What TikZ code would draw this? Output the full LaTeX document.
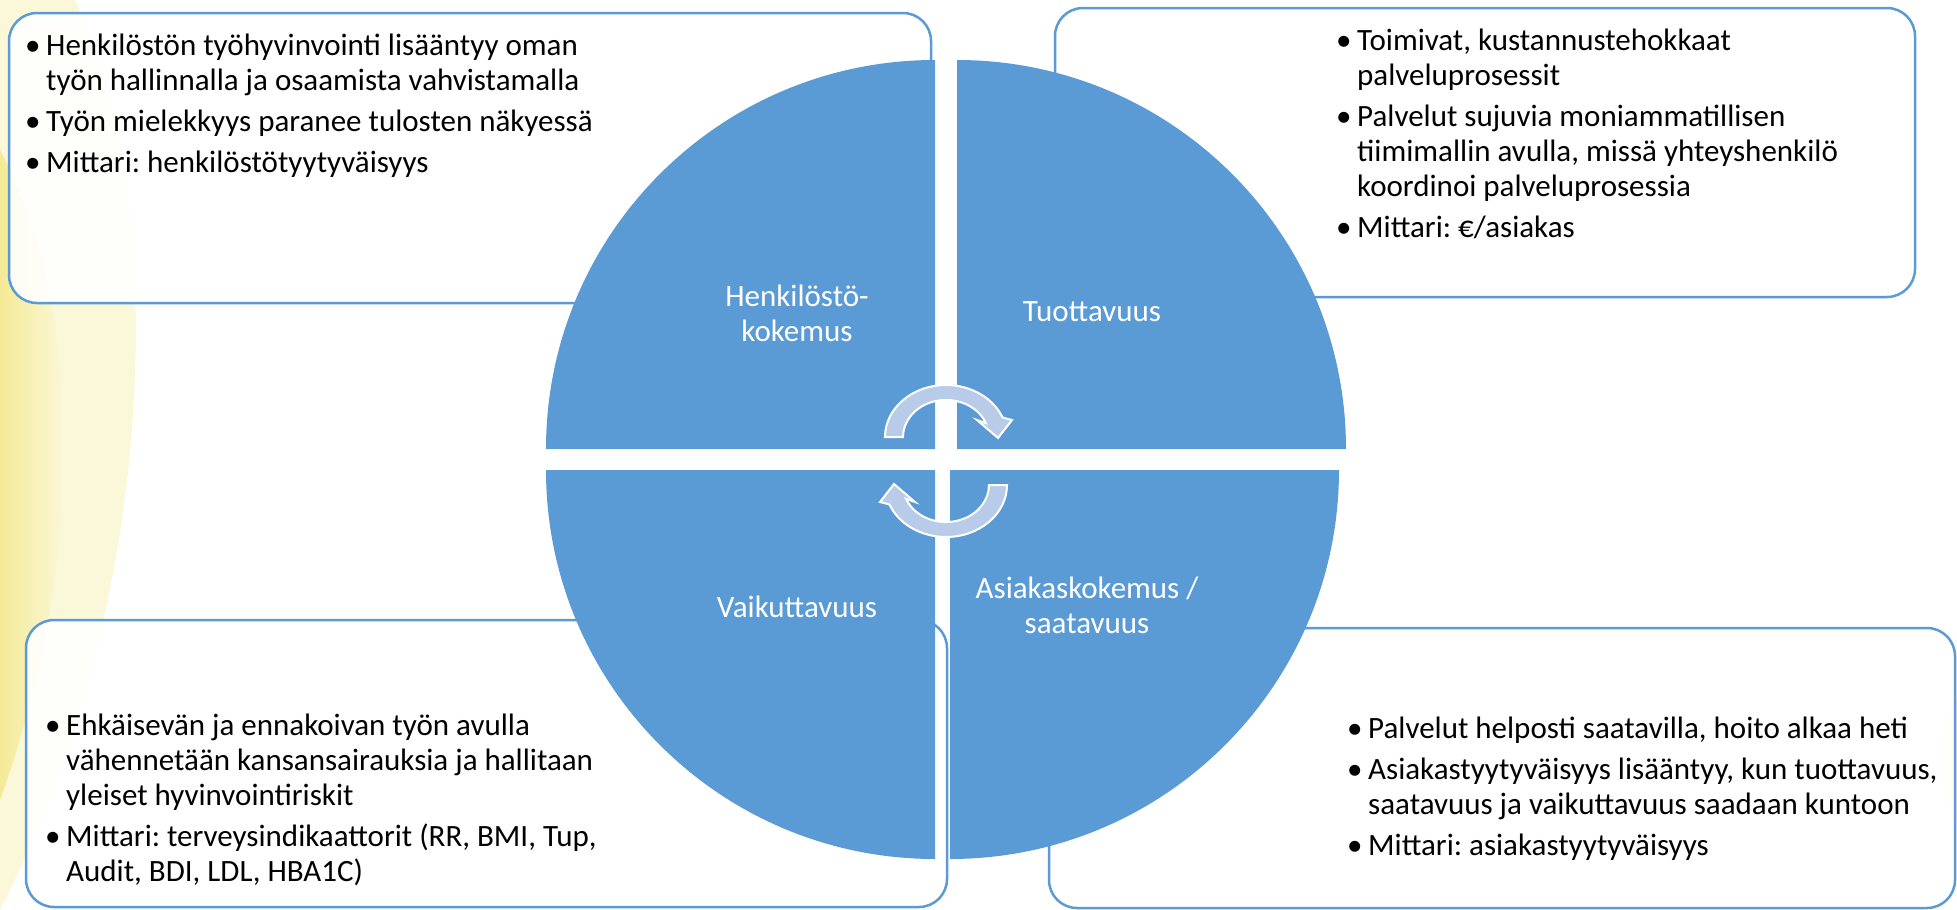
\documentclass[tikz,border=0pt]{standalone}
\usepackage{fontspec}
\setmainfont{Carlito}
\usepackage{tikz}

\definecolor{quadblue}{RGB}{91,155,213}
\definecolor{arrowblue}{RGB}{184,204,233}
\definecolor{bgyellow}{RGB}{244,234,150}
\newcommand\bl{\makebox[21pt][l]{\textbullet}}
\frenchspacing

\begin{document}
\begin{tikzpicture}[x=1pt,y=1pt,
	tbox/.style={draw=quadblue, line width=2.5pt, rounded corners=28pt, fill=white, fill opacity=0.88},
	quad/.style={fill=quadblue},
	cyc/.style={fill=arrowblue, draw=white, line width=2pt},
	bultext/.style={anchor=base west, inner sep=0pt, font=\fontsize{31}{35}\selectfont},
	quadlabel/.style={align=center, text=white, font=\fontsize{31}{35}\selectfont}]
	%\draw[help lines] (0,0) grid[step=50] (1957,-910);
	\useasboundingbox (0,0) rectangle (1957,-910);
	% yellow background on the left and right
	\fill[bgyellow!35] (0,0) -- (75,0) .. controls (170,-200) and (160,-600) .. (0,-910) -- cycle;
	\shade[left color=bgyellow, right color=bgyellow!10] (0,-150) .. controls (80,-300) and (90,-550) .. (0,-800) -- cycle;
	\fill[bgyellow!30] (1957,-700) .. controls (1935,-730) and (1935,-790) .. (1957,-820) -- cycle;
	% text boxes
	\draw[tbox] (9,-13) rectangle (931,-303);
	\draw[tbox] (1055,-8) rectangle (1915,-297);
	\draw[tbox] (26,-620) rectangle (947,-907);
	\draw[tbox] (1049,-628) rectangle (1955,-908);
	\node[bultext] (txtHenk) at (25,-55) {\begin{tabular}[t]{@{}l@{}l@{}}
		\bl & Henkilöstön työhyvinvointi lisääntyy oman\\
		& työn hallinnalla ja osaamista vahvistamalla\\[6pt]
		\bl & Työn mielekkyys paranee tulosten näkyessä\\[6pt]
		\bl & Mittari: henkilöstötyytyväisyys
	\end{tabular}};
	\node[bultext] (txtTuot) at (1336,-50) {\begin{tabular}[t]{@{}l@{}l@{}}
		\bl & Toimivat, kustannustehokkaat\\
		& palveluprosessit\\[6pt]
		\bl & Palvelut sujuvia moniammatillisen\\
		& tiimimallin avulla, missä yhteyshenkilö\\
		& koordinoi palveluprosessia\\[6pt]
		\bl & Mittari: €/asiakas
	\end{tabular}};
	\node[bultext] (txtVaik) at (45,-735) {\begin{tabular}[t]{@{}l@{}l@{}}
		\bl & Ehkäisevän ja ennakoivan työn avulla\\
		& vähennetään kansansairauksia ja hallitaan\\
		& yleiset hyvinvointiriskit\\[6pt]
		\bl & Mittari: terveysindikaattorit (RR, BMI, Tup,\\
		& Audit, BDI, LDL, HBA1C)
	\end{tabular}};
	\node[bultext] (txtAsia) at (1347,-738) {\begin{tabular}[t]{@{}l@{}l@{}}
		\bl & Palvelut helposti saatavilla, hoito alkaa heti\\[6pt]
		\bl & Asiakastyytyväisyys lisääntyy, kun tuottavuus,\\
		& saatavuus ja vaikuttavuus saadaan kuntoon\\[6pt]
		\bl & Mittari: asiakastyytyväisyys
	\end{tabular}};
	% circle of four quarters
	\fill[quad] (935,-449) -- (546,-449) arc[start angle=180, end angle=90, radius=389] -- cycle;
	\fill[quad] (957,-449) -- (957,-60) arc[start angle=90, end angle=0, radius=389] -- cycle;
	\fill[quad] (935,-470) -- (546,-470) arc[start angle=180, end angle=270, radius=389] -- cycle;
	\fill[quad] (950,-470) -- (1339,-470) arc[start angle=0, end angle=-90, radius=389] -- cycle;
	% the two turning arrows
	\foreach \cy/\rot in {437/0, 485/180}{
		\begin{scope}[shift={(946,-\cy)}, rotate=\rot]
		\filldraw[cyc] (-43,0) -- (-61,0) arc[start angle=180, end angle=22, x radius=61, y radius=52]
			-- (66,17) -- (52,-1) -- (31,17) -- (39.9,13.9)
			arc[start angle=22, end angle=180, x radius=43, y radius=37] -- cycle;
		\end{scope}
	}
	\node[quadlabel] (labHenk) at (797,-313) {Henkilöstö-\\kokemus};
	\node[quadlabel] (labTuot) at (1092,-312) {Tuottavuus};
	\node[quadlabel] (labVaik) at (797,-607) {Vaikuttavuus};
	\node[quadlabel] (labAsia) at (1087,-605) {Asiakaskokemus /\\saatavuus};
\end{tikzpicture}
\end{document}
